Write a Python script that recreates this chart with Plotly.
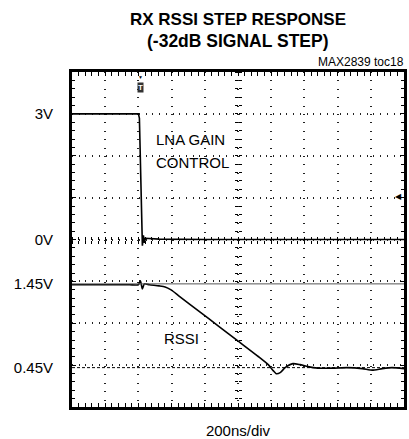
import plotly.graph_objects as go

# LNA gain control trace (1V/div, 0V at screen centre)
lna_time_ns = [0, 200, 400, 406, 412, 418, 424, 430, 436, 442, 466, 525, 800, 1200, 1600, 2000]
lna_volts = [3.0, 3.0, 3.0, 2.9, 2.0, 0.9, -0.15, 0.1, -0.08, 0.03, 0.02, 0.01, 0.0, 0.0, 0.0, 0.0]

# RSSI output trace (0.5V/div)
rssi_time_ns = [0, 167, 346, 400, 412, 424, 436, 466, 525, 561, 597, 645, 764, 884,
                1003, 1122, 1182, 1212, 1230, 1254, 1284, 1331, 1373, 1421, 1481,
                1570, 1660, 1749, 1809, 1869, 1928, 2000]
rssi_volts = [1.44, 1.44, 1.44, 1.44, 1.486, 1.39, 1.45, 1.44, 1.426, 1.414, 1.378, 1.305,
              1.125, 0.944, 0.763, 0.583, 0.486, 0.414, 0.378, 0.39, 0.45, 0.498, 0.486,
              0.462, 0.444, 0.444, 0.45, 0.438, 0.42, 0.438, 0.45, 0.438]

# level markers drawn across the screen
rssi_markers = [1.45, 0.45]
lna_ticks = [3, 0]
lna_tick_text = ['3V', '0V']
rssi_tick_text = ['1.45V', '0.45V']

TIME_SPAN = 2000  # 10 div x 200ns
FONT = 'Liberation Sans, Arial, sans-serif'

fig = go.Figure()

fig.add_trace(go.Scatter(
    x=lna_time_ns, y=lna_volts, mode='lines', yaxis='y2',
    line=dict(color='black', width=1.6), showlegend=False, hoverinfo='skip'
))

fig.add_trace(go.Scatter(
    x=rssi_time_ns, y=rssi_volts, mode='lines', yaxis='y3',
    line=dict(color='black', width=1.6, shape='spline', smoothing=0.6),
    showlegend=False, hoverinfo='skip'
))

# reference levels for the RSSI channel
fig.add_shape(type='line', xref='paper', x0=0, x1=1, yref='y3',
              y0=rssi_markers[0], y1=rssi_markers[0],
              line=dict(color='#555555', width=1))
fig.add_shape(type='line', xref='paper', x0=0, x1=1, yref='y3',
              y0=rssi_markers[1], y1=rssi_markers[1],
              line=dict(color='black', width=1, dash='3px,2px'))

grid_axis = dict(showline=True, linecolor='black', linewidth=2.5, mirror='allticks',
                 ticks='inside', ticklen=4, tickcolor='black', showticklabels=False,
                 zeroline=False, gridcolor='#222222', gridwidth=1.5)

centre_ticks = dict(showline=False, showgrid=False, zeroline=False, showticklabels=False,
                    ticklen=3, tickcolor='black', tickwidth=1)

fig.update_layout(
    width=409, height=439,
    plot_bgcolor='white', paper_bgcolor='white',
    margin=dict(l=72, r=2, t=72, b=32),
    xaxis=dict(grid_axis, range=[0, TIME_SPAN], dtick=200, griddash='1px,7.4px',
               minor=dict(dtick=40, ticks='inside', ticklen=3, tickcolor='black', showgrid=False),
               title=dict(text='200ns/div', standoff=17,
                          font=dict(family=FONT, size=15, color='black'))),
    xaxis2=dict(centre_ticks, overlaying='x', anchor='free', position=0.5,
                range=[0, TIME_SPAN], dtick=40, ticks='outside'),
    xaxis3=dict(centre_ticks, overlaying='x', anchor='free', position=0.5, side='top',
                range=[0, TIME_SPAN], dtick=40, ticks='outside'),
    yaxis=dict(grid_axis, range=[-4, 4], dtick=1, griddash='1px,5.7px',
               minor=dict(dtick=0.2, ticks='inside', ticklen=3, tickcolor='black', showgrid=False)),
    yaxis2=dict(overlaying='y', anchor='x', side='left', range=[-4, 4],
                tickvals=lna_ticks, ticktext=lna_tick_text, showgrid=False, zeroline=False,
                ticks='', ticklabelstandoff=18,
                tickfont=dict(family=FONT, size=15, color='black')),
    yaxis3=dict(overlaying='y', anchor='x', side='left', range=[-0.02, 3.98],
                tickvals=rssi_markers, ticktext=rssi_tick_text, showgrid=False, zeroline=False,
                ticks='', ticklabelstandoff=18,
                tickfont=dict(family=FONT, size=15, color='black')),
    yaxis4=dict(centre_ticks, overlaying='y', anchor='free', position=0.5,
                range=[-4, 4], dtick=0.2, ticks='outside'),
    yaxis5=dict(centre_ticks, overlaying='y', anchor='free', position=0.5, side='right',
                range=[-4, 4], dtick=0.2, ticks='outside'),
)

# dummy traces so the centre tick axes get drawn
fig.add_trace(go.Scatter(x=[None], y=[None], xaxis='x2', yaxis='y4', showlegend=False))
fig.add_trace(go.Scatter(x=[None], y=[None], xaxis='x3', yaxis='y5', showlegend=False))

# two-line title above the screen
fig.add_annotation(x=0.5, xref='paper', y=1.158, yref='paper', yanchor='middle',
                   text='<b>RX RSSI STEP RESPONSE</b>', showarrow=False,
                   font=dict(family=FONT, size=17, color='black'))
fig.add_annotation(x=0.5, xref='paper', y=1.093, yref='paper', yanchor='middle',
                   text='<b>(-32dB SIGNAL STEP)</b>', showarrow=False,
                   font=dict(family=FONT, size=17.5, color='black'))
fig.add_annotation(x=1.006, xref='paper', xanchor='right', y=1.004, yref='paper', yanchor='bottom',
                   text='MAX2839 toc18', showarrow=False,
                   font=dict(family=FONT, size=12, color='black'))

# channel labels
fig.add_annotation(x=496, y=2.39, yref='y2', text='LNA GAIN', showarrow=False,
                   xanchor='left', font=dict(family=FONT, size=15, color='black'))
fig.add_annotation(x=496, y=1.85, yref='y2', text='CONTROL', showarrow=False,
                   xanchor='left', font=dict(family=FONT, size=15, color='black'))
fig.add_annotation(x=657, y=0.80, yref='y3', text='RSSI', showarrow=False,
                   font=dict(family=FONT, size=15, color='black'))

# scope markers: trigger position and trigger level
fig.add_annotation(x=412, y=3.64, yref='y', text='<b>T</b>', showarrow=False,
                   bgcolor='#333333', borderpad=0,
                   font=dict(family=FONT, size=8, color='white'))
fig.add_annotation(x=412, y=4, yref='y', text='▼', showarrow=False, yanchor='top',
                   font=dict(size=5, color='black'))
fig.add_annotation(x=1, xref='paper', xanchor='right', y=1.06, yref='y', text='◀',
                   showarrow=False, font=dict(size=8, color='black'))

# drop the default body margin so the figure sits at the window corner
fig.write_html("out.html", config={'displayModeBar': False},
               post_script="document.body.style.margin='0';")
